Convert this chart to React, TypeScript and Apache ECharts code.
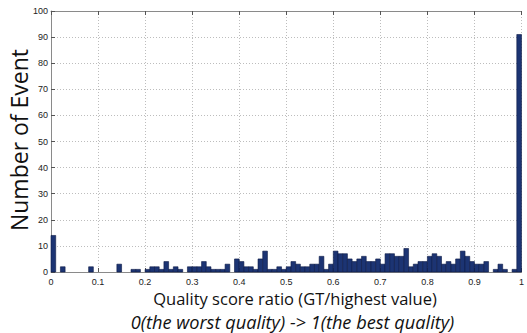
import React, { useEffect, useRef } from "react";
import * as echarts from "echarts";

// Histogram bins: each bin is 0.01 wide, starting at binStarts[i]
const binStarts: number[] = [
  0.0, 0.01, 0.02, 0.03, 0.04, 0.05, 0.06, 0.07, 0.08, 0.09,
  0.1, 0.11, 0.12, 0.13, 0.14, 0.15, 0.16, 0.17, 0.18, 0.19,
  0.2, 0.21, 0.22, 0.23, 0.24, 0.25, 0.26, 0.27, 0.28, 0.29,
  0.3, 0.31, 0.32, 0.33, 0.34, 0.35, 0.36, 0.37, 0.38, 0.39,
  0.4, 0.41, 0.42, 0.43, 0.44, 0.45, 0.46, 0.47, 0.48, 0.49,
  0.5, 0.51, 0.52, 0.53, 0.54, 0.55, 0.56, 0.57, 0.58, 0.59,
  0.6, 0.61, 0.62, 0.63, 0.64, 0.65, 0.66, 0.67, 0.68, 0.69,
  0.7, 0.71, 0.72, 0.73, 0.74, 0.75, 0.76, 0.77, 0.78, 0.79,
  0.8, 0.81, 0.82, 0.83, 0.84, 0.85, 0.86, 0.87, 0.88, 0.89,
  0.9, 0.91, 0.92, 0.93, 0.94, 0.95, 0.96, 0.97, 0.98, 0.99,
];
const binWidth = 0.01;

const eventCounts: number[] = [
  14, 0, 2, 0, 0, 0, 0, 0, 2, 0,
  0, 0, 0, 0, 3, 0, 0, 1, 1, 0,
  1, 2, 2, 1, 4, 1, 2, 1, 0, 2,
  2, 2, 4, 2, 1, 1, 1, 3, 0, 5,
  4, 2, 2, 1, 5, 8, 1, 1, 2, 1,
  2, 4, 3, 2, 2, 3, 3, 6, 1, 3,
  8, 7, 7, 5, 4, 5, 6, 4, 4, 5,
  3, 7, 7, 6, 6, 9, 2, 3, 4, 4,
  6, 7, 6, 3, 4, 3, 5, 8, 6, 4,
  3, 3, 4, 0, 1, 3, 1, 0, 1, 91,
];

const xTicks: number[] = [0, 0.1, 0.2, 0.3, 0.4, 0.5, 0.6, 0.7, 0.8, 0.9, 1];
const yTicks: number[] = [0, 10, 20, 30, 40, 50, 60, 70, 80, 90, 100];

const xTitle = "Quality score ratio (GT/highest value)";
const xSubtitle = "0(the worst quality) -> 1(the best quality)";
const yTitle = "Number of Event";

export default function App() {
  const ref = useRef<HTMLDivElement>(null);

  useEffect(() => {
    if (!ref.current) return;
    const chart = echarts.init(ref.current, undefined, { renderer: "svg" });

    const data = binStarts.map((s, i) => [s, s + binWidth, eventCounts[i]]);

    const axisCommon = {
      type: "value" as const,
      min: xTicks[0],
      max: xTicks[xTicks.length - 1],
      interval: 0.1,
    };

    chart.setOption({
      animation: false,
      backgroundColor: "#ffffff",
      grid: { left: 51, top: 11, width: 476, height: 261, show: false },
      xAxis: [
        {
          ...axisCommon,
          position: "bottom",
          axisLine: { show: true, onZero: false, lineStyle: { color: "#8a8a8a", width: 1 } },
          axisTick: { show: true, inside: true, length: 4, lineStyle: { color: "#555" } },
          axisLabel: {
            show: true,
            fontFamily: "Liberation Sans",
            fontSize: 9,
            color: "#222",
            margin: 5,
            formatter: (v: number) => (v === 0 ? "0" : v === 1 ? "1" : v.toFixed(1)),
          },
          splitLine: { show: true, lineStyle: { color: "#bdbdbd", type: [1, 2], width: 1 } },
        },
        {
          ...axisCommon,
          position: "top",
          axisLine: { show: true, onZero: false, lineStyle: { color: "#8a8a8a", width: 1 } },
          axisTick: { show: true, inside: true, length: 4, lineStyle: { color: "#555" } },
          axisLabel: { show: false },
          splitLine: { show: false },
        },
      ],
      yAxis: {
        type: "value",
        min: yTicks[0],
        max: yTicks[yTicks.length - 1],
        interval: 10,
        axisLine: { show: true, lineStyle: { color: "#8a8a8a", width: 1 } },
        axisTick: { show: true, inside: true, length: 4, lineStyle: { color: "#555" } },
        axisLabel: {
          fontFamily: "Liberation Sans",
          fontSize: 9,
          color: "#222",
          margin: 3,
        },
        splitLine: { show: true, lineStyle: { color: "#bdbdbd", type: [1, 2], width: 1 } },
      },
      series: [
        {
          type: "custom",
          xAxisIndex: 0,
          yAxisIndex: 0,
          data,
          encode: { x: [0, 1], y: 2 },
          renderItem: (params: any, api: any) => {
            const x0 = api.value(0);
            const x1 = api.value(1);
            const v = api.value(2);
            if (!v) return null;
            const p0 = api.coord([x0, v]);
            const p1 = api.coord([x1, 0]);
            return {
              type: "rect",
              shape: { x: p0[0], y: p0[1], width: p1[0] - p0[0], height: p1[1] - p0[1] },
              style: { fill: "#1c3473", stroke: "#0c1a45", lineWidth: 0.6 },
            };
          },
        },
      ],
      graphic: [
        {
          type: "text",
          x: 295,
          y: 298,
          style: {
            text: xTitle,
            fontFamily: "Open Sans",
            fontSize: 16.5,
            fill: "#111",
            textAlign: "center",
            textVerticalAlign: "middle",
          },
        },
        {
          type: "text",
          x: 292.5,
          y: 322,
          style: {
            text: xSubtitle,
            fontFamily: "Open Sans",
            fontStyle: "italic",
            fontSize: 18.2,
            fill: "#111",
            textAlign: "center",
            textVerticalAlign: "middle",
          },
        },
        {
          type: "text",
          x: 19,
          y: 140,
          rotation: Math.PI / 2,
          style: {
            text: yTitle,
            fontFamily: "Open Sans",
            fontSize: 23,
            fill: "#111",
            textAlign: "center",
            textVerticalAlign: "middle",
          },
        },
      ],
    });

    return () => chart.dispose();
  }, []);

  return (
    <div
      ref={ref}
      style={{ position: "absolute", left: 0, top: 0, width: 527, height: 333 }}
    />
  );
}
